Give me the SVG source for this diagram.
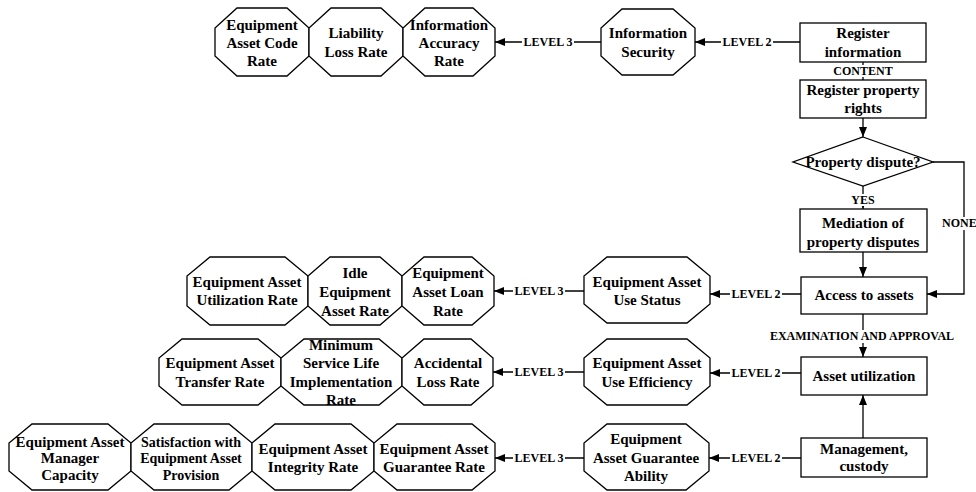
<svg xmlns="http://www.w3.org/2000/svg" width="976" height="492" viewBox="0 0 976 492">
<style>
.s{fill:#fff;stroke:#000;stroke-width:1.3}
.t{font-family:"Liberation Serif","Times New Roman",serif;font-weight:bold;font-size:15px;text-anchor:middle;fill:#000}
.t14{font-size:14px}
.l{font-family:"Liberation Serif","Times New Roman",serif;font-weight:bold;font-size:12px;text-anchor:middle;fill:#000}
.bg{fill:#fff;stroke:none}
.c{fill:none;stroke:#000;stroke-width:1.3}
</style>
<defs>
<marker id="ah" viewBox="0 0 10 8" refX="10" refY="4" markerWidth="10" markerHeight="8" markerUnits="userSpaceOnUse" orient="auto">
<path d="M0,0 L10,4 L0,8 z" fill="#000"/>
</marker>
</defs>
<rect width="976" height="492" fill="#fff"/>

<g id="connectors">
<path class="c" d="M800,42 H695" marker-end="url(#ah)"/>
<path class="c" d="M601,42 H495" marker-end="url(#ah)"/>
<path class="c" d="M863,62 V80"/>
<path class="c" d="M863,118 V137" marker-end="url(#ah)"/>
<path class="c" d="M863,186 V209" marker-end="url(#ah)"/>
<path class="c" d="M933,162 H964 V294 H927" marker-end="url(#ah)"/>
<path class="c" d="M863,252 V277" marker-end="url(#ah)"/>
<path class="c" d="M801,294 H710" marker-end="url(#ah)"/>
<path class="c" d="M584,291 H494" marker-end="url(#ah)"/>
<path class="c" d="M863,314 V357" marker-end="url(#ah)"/>
<path class="c" d="M801,373 H710" marker-end="url(#ah)"/>
<path class="c" d="M584,372 H493" marker-end="url(#ah)"/>
<path class="c" d="M863,438 V395" marker-end="url(#ah)"/>
<path class="c" d="M801,458 H709" marker-end="url(#ah)"/>
<path class="c" d="M584,458 H495" marker-end="url(#ah)"/>

<rect class="bg" x="721" y="36" width="52" height="13"/>
<rect class="bg" x="522" y="36" width="52" height="13"/>
<rect class="bg" x="832" y="65" width="62" height="12"/>
<rect class="bg" x="850" y="194" width="26" height="12"/>
<rect class="bg" x="941" y="217" width="35" height="13"/>
<rect class="bg" x="730" y="288" width="52" height="13"/>
<rect class="bg" x="513" y="285" width="52" height="13"/>
<rect class="bg" x="765" y="330" width="195" height="13"/>
<rect class="bg" x="730" y="367" width="52" height="13"/>
<rect class="bg" x="513" y="366" width="52" height="13"/>
<rect class="bg" x="730" y="452" width="52" height="13"/>
<rect class="bg" x="513" y="452" width="52" height="13"/>

<text class="l" x="747" y="46">LEVEL 2</text>
<text class="l" x="548" y="46">LEVEL 3</text>
<text class="l" x="863" y="75">CONTENT</text>
<text class="l" x="863" y="204">YES</text>
<text class="l" x="942" y="227" style="text-anchor:start">NONE</text>
<text class="l" x="756" y="298">LEVEL 2</text>
<text class="l" x="539" y="295">LEVEL 3</text>
<text class="l" x="862" y="340">EXAMINATION AND APPROVAL</text>
<text class="l" x="756" y="377">LEVEL 2</text>
<text class="l" x="539" y="376">LEVEL 3</text>
<text class="l" x="756" y="462">LEVEL 2</text>
<text class="l" x="539" y="462">LEVEL 3</text>
</g>

<g id="register-information">
<rect class="s" x="800" y="23" width="126" height="39"/>
<text class="t" x="863" y="38">Register</text>
<text class="t" x="863" y="57">information</text>
</g>
<g id="register-property-rights">
<rect class="s" x="800" y="80" width="126" height="38"/>
<text class="t" x="863" y="95">Register property</text>
<text class="t" x="863" y="113">rights</text>
</g>
<g id="property-dispute">
<polygon class="s" points="863,137 933,162 863,186 793,162"/>
<text class="t" x="863" y="167">Property dispute?</text>
</g>
<g id="mediation">
<rect class="s" x="800" y="209" width="127" height="43"/>
<text class="t" x="863" y="228">Mediation of</text>
<text class="t" x="863" y="247">property disputes</text>
</g>
<g id="access-to-assets">
<rect class="s" x="801" y="277" width="126" height="37"/>
<text class="t" x="864" y="300">Access to assets</text>
</g>
<g id="asset-utilization">
<rect class="s" x="801" y="357" width="126" height="38"/>
<text class="t" x="864" y="381">Asset utilization</text>
</g>
<g id="management-custody">
<rect class="s" x="801" y="438" width="126" height="39"/>
<text class="t" x="864" y="454">Management,</text>
<text class="t" x="864" y="471">custody</text>
</g>

<g id="information-security">
<polygon class="s" points="622,9 673,9 695,28 695,56 673,75 622,75 601,56 601,28"/>
<text class="t" x="648" y="38">Information</text>
<text class="t" x="648" y="57">Security</text>
</g>
<g id="use-status">
<polygon class="s" points="607,257 687,257 710,276 710,304 687,323 607,323 584,304 584,276"/>
<text class="t" x="647" y="287">Equipment Asset</text>
<text class="t" x="647" y="305">Use Status</text>
</g>
<g id="use-efficiency">
<polygon class="s" points="607,339 687,339 710,358 710,386 687,405 607,405 584,386 584,358"/>
<text class="t" x="647" y="368">Equipment Asset</text>
<text class="t" x="647" y="387">Use Efficiency</text>
</g>
<g id="guarantee-ability">
<polygon class="s" points="607,424 686,424 709,443 709,471 686,490 607,490 584,471 584,443"/>
<text class="t" x="646" y="444">Equipment</text>
<text class="t" x="646" y="463">Asset Guarantee</text>
<text class="t" x="646" y="481">Ability</text>
</g>

<g id="code-rate">
<polygon class="s" points="237,8 287,8 309,28 309,56 287,76 237,76 215,56 215,28"/>
<text class="t" x="262" y="30">Equipment</text>
<text class="t" x="262" y="48">Asset Code</text>
<text class="t" x="262" y="66">Rate</text>
</g>
<g id="liability-loss-rate">
<polygon class="s" points="331,8 381,8 403,28 403,56 381,76 331,76 309,56 309,28"/>
<text class="t" x="356" y="38">Liability</text>
<text class="t" x="356" y="57">Loss Rate</text>
</g>
<g id="information-accuracy-rate">
<polygon class="s" points="425,8 473,8 495,28 495,56 473,76 425,76 403,56 403,28"/>
<text class="t" x="449" y="30">Information</text>
<text class="t" x="449" y="48">Accuracy</text>
<text class="t" x="449" y="66">Rate</text>
</g>

<g id="utilization-rate">
<polygon class="s" points="210,257 285,257 308,276 308,306 285,325 210,325 187,306 187,276"/>
<text class="t" x="247" y="287">Equipment Asset</text>
<text class="t" x="247" y="305">Utilization Rate</text>
</g>
<g id="idle-rate">
<polygon class="s" points="330,257 380,257 402,276 402,306 380,325 330,325 308,306 308,276"/>
<text class="t" x="355" y="278">Idle</text>
<text class="t" x="355" y="297">Equipment</text>
<text class="t" x="355" y="316">Asset Rate</text>
</g>
<g id="loan-rate">
<polygon class="s" points="424,257 472,257 494,276 494,306 472,325 424,325 402,306 402,276"/>
<text class="t" x="448" y="278">Equipment</text>
<text class="t" x="448" y="297">Asset Loan</text>
<text class="t" x="448" y="316">Rate</text>
</g>

<g id="transfer-rate">
<polygon class="s" points="182,339 258,339 281,358 281,386 258,405 182,405 159,386 159,358"/>
<text class="t" x="220" y="368">Equipment Asset</text>
<text class="t" x="220" y="387">Transfer Rate</text>
</g>
<g id="minimum-service-life">
<polygon class="s" points="304,339 379,339 402,358 402,386 379,405 304,405 281,386 281,358"/>
<text class="t" x="341" y="350">Minimum</text>
<text class="t" x="341" y="368">Service Life</text>
<text class="t" x="341" y="387">Implementation</text>
<text class="t" x="341" y="405">Rate</text>
</g>
<g id="accidental-loss-rate">
<polygon class="s" points="424,339 471,339 493,358 493,386 471,405 424,405 402,386 402,358"/>
<text class="t" x="448" y="368">Accidental</text>
<text class="t" x="448" y="387">Loss Rate</text>
</g>

<g id="manager-capacity">
<polygon class="s" points="32,424 108,424 131,443 131,471 108,490 32,490 9,471 9,443"/>
<text class="t" x="70" y="447">Equipment Asset</text>
<text class="t" x="70" y="463">Manager</text>
<text class="t" x="70" y="480">Capacity</text>
</g>
<g id="satisfaction-provision">
<polygon class="s" points="154,424 229,424 252,443 252,471 229,490 154,490 131,471 131,443"/>
<text class="t t14" x="191" y="447">Satisfaction with</text>
<text class="t t14" x="191" y="463">Equipment Asset</text>
<text class="t t14" x="191" y="480">Provision</text>
</g>
<g id="integrity-rate">
<polygon class="s" points="275,424 351,424 374,443 374,471 351,490 275,490 252,471 252,443"/>
<text class="t" x="313" y="454">Equipment Asset</text>
<text class="t" x="313" y="472">Integrity Rate</text>
</g>
<g id="guarantee-rate">
<polygon class="s" points="397,424 472,424 495,443 495,471 472,490 397,490 374,471 374,443"/>
<text class="t" x="434" y="454">Equipment Asset</text>
<text class="t" x="434" y="472">Guarantee Rate</text>
</g>
</svg>
